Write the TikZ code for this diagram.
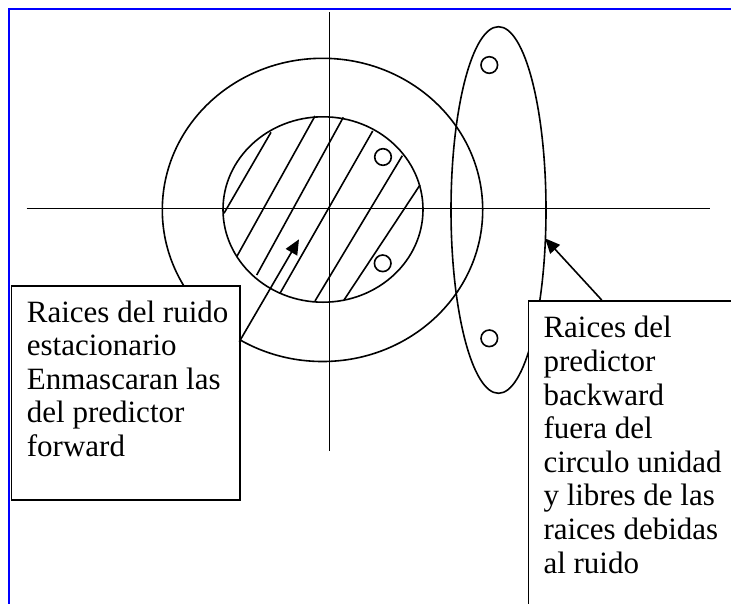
\documentclass[tikz,border=0pt]{standalone}
\usepackage{fontspec}
\setmainfont{Liberation Serif}
\usetikzlibrary{arrows.meta,shapes.geometric}
\begin{document}
\begin{tikzpicture}[x=1pt,y=-1pt,
  ln/.style={line width=1.6pt, draw=black},
  ring/.style={ln, ellipse, inner sep=0pt},
  rootmark/.style={ln, circle, minimum size=16.6pt, inner sep=0pt},
  box/.style={ln, fill=white, rectangle, inner sep=0pt, anchor=north west},
  txt/.style={anchor=base west, inner sep=0pt, font=\fontsize{31}{33.6}\selectfont},
  arr/.style={line width=1.6pt, -{Triangle[length=15pt,width=13pt]}},
  frame/.style={draw=blue, line width=2pt},
]
\useasboundingbox (0,0) rectangle (731,603);
\clip (0,0) rectangle (731,603);

% page frame
\draw[frame] (9,610) -- (9,9.3) -- (740,9.3);

% axes
\coordinate (xl) at (26.6,208.3);
\coordinate (xr) at (709.6,208.3);
\coordinate (yt) at (329.3,12.3);
\coordinate (yb) at (329.3,450.8);
\draw[ln] (xl) -- (xr);
\draw[ln] (yt) -- (yb);

% unit circle and noise-root circle
\node[ring, minimum width=320.4pt, minimum height=303.2pt] (outer) at (322.5,209.9) {};
\node[ring, minimum width=200pt, minimum height=185.4pt] (inner) at (323,209.5) {};
% backward predictor ellipse
\node[ring, minimum width=95pt, minimum height=366.6pt] (tall) at (498.5,210) {};

% hatching
\draw[ln] (271,132.3) -- (224,213.3);
\draw[ln] (315,116) -- (236.7,256.7);
\draw[ln] (343.3,117.3) -- (256.7,275);
\draw[ln] (372.7,131) -- (280,293.3);
\draw[ln] (402.3,155.7) -- (315,301);
\draw[ln] (420,185) -- (344,300);

% roots
\node[rootmark] (r1) at (383,157) {};
\node[rootmark] (r2) at (382.7,263.3) {};
\node[rootmark] (r3) at (489.3,65) {};
\node[rootmark] (r4) at (489.3,338.3) {};

% label boxes
\node[box, minimum width=228.8pt, minimum height=214pt] (lbox) at (10.5,285) {};
\node[box, minimum width=230pt, minimum height=330pt] (rbox) at (527.5,300) {};

\node[txt] (ltext) at (26.7,322) {\parbox[t]{212pt}{\raggedright
Raices del ruido\\estacionario\\Enmascaran las\\del predictor\\forward}};
\node[txt] (rtext) at (543.3,337.8) {\parbox[t]{200pt}{\raggedright
Raices del\\predictor\\backward\\fuera del\\circulo unidad\\y libres de las\\raices debidas\\al ruido}};

% arrows
\coordinate (lstart) at (239.3,341.7);
\coordinate (ltip) at (299,239.3);
\coordinate (rstart) at (601.7,300);
\coordinate (rtip) at (545,238.3);
\draw[arr] (lstart) -- (ltip);
\draw[arr] (rstart) -- (rtip);
\end{tikzpicture}
\end{document}
